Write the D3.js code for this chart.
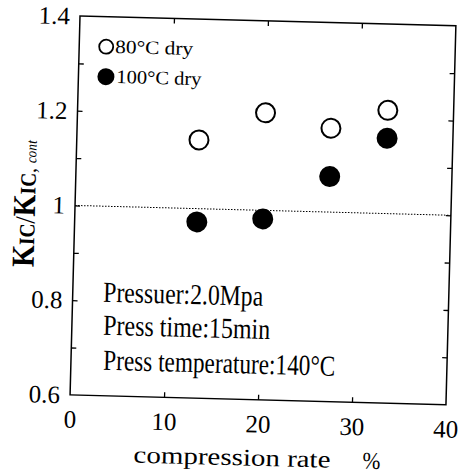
<!DOCTYPE html>
<html>
<head>
<meta charset="utf-8">
<script src="https://cdn.jsdelivr.net/npm/d3@7"></script>
<style>
  body { margin: 0; background: #fff; }
  svg { display: block; }
  text { font-family: "Liberation Serif", "Times New Roman", serif; fill: #000; }
</style>
</head>
<body>
<script>
// Compression rate (%) for each specimen group
const compression = [13, 20, 27, 33];
// Normalised fracture toughness KIC / KIC,cont
const dry80 = [1.145, 1.206, 1.177, 1.218];
const dry100 = [0.972, 0.982, 1.075, 1.159];
// Axis ticks
const xTicks = [0, 10, 20, 30, 40];
const xInnerTicks = [10, 20, 30];
const yTicks = [0.6, 0.7, 0.8, 0.9, 1.0, 1.1, 1.2, 1.3, 1.4];
const yLabelled = [0.6, 0.8, 1.0, 1.2, 1.4];
const referenceLevel = 1.0;
const legendLabels = ["80°C dry", "100°C dry"];
const conditions = ["Pressuer:2.0Mpa", "Press time:15min", "Press temperature:140°C"];

const W = 459, H = 475;
const L = 80, T = 16, PW = 376, PH = 379;

const svg = d3.select("body").append("svg").attr("width", W).attr("height", H);
const g = svg.append("g").attr("transform", `rotate(1.5, ${L}, ${T})`);

const x = d3.scaleLinear().domain([0, 40]).range([L, L + PW]);
const y = d3.scaleLinear().domain([0.6, 1.4]).range([T + PH, T]);

// Frame
g.append("rect")
  .attr("x", L).attr("y", T).attr("width", PW).attr("height", PH)
  .attr("fill", "none").attr("stroke", "#000").attr("stroke-width", 1.5);

const fmtY = d => yLabelled.some(v => Math.abs(v - d) < 1e-9) ? String(+d.toFixed(1)) : "";

// Left axis (ticks inward, labels outside)
const axLeft = g.append("g").attr("transform", `translate(${L},0)`)
  .call(d3.axisLeft(y).tickValues(yTicks).tickSize(-5).tickPadding(10).tickFormat(fmtY));
// Right axis
const axRight = g.append("g").attr("transform", `translate(${L + PW},0)`)
  .call(d3.axisRight(y).tickValues(yTicks.slice(1, -1)).tickSize(-5).tickFormat(""));
// Bottom axis
const axBottom = g.append("g").attr("transform", `translate(0,${T + PH})`)
  .call(d3.axisBottom(x).tickValues(xTicks).tickSize(-5).tickPadding(15).tickFormat(d3.format("d")));
// Top axis
const axTop = g.append("g").attr("transform", `translate(0,${T})`)
  .call(d3.axisTop(x).tickValues(xInnerTicks).tickSize(-5).tickFormat(""));

[axLeft, axRight, axBottom, axTop].forEach(a => {
  a.select(".domain").remove();
  a.selectAll(".tick line").attr("stroke", "#000").attr("stroke-width", 1.3);
  a.selectAll("text").attr("font-size", 25).attr("font-family", "Liberation Serif").attr("fill", "#000");
});
axBottom.selectAll(".tick line").filter(d => d === 0 || d === 40).remove();
axLeft.selectAll(".tick line").filter(d => d === 0.6 || d === 1.4).remove();

// Reference line at 1.0
g.append("path")
  .datum([0, 40])
  .attr("d", d3.line().x(d => x(d)).y(() => y(referenceLevel)))
  .attr("stroke", "#000").attr("stroke-width", 1).attr("stroke-dasharray", "1.5,1.5").attr("fill", "none");

// Data points
g.selectAll("circle.d80").data(compression).join("circle")
  .attr("class", "d80")
  .attr("cx", d => x(d)).attr("cy", (d, i) => y(dry80[i])).attr("r", 9.5)
  .attr("fill", "#fff").attr("stroke", "#000").attr("stroke-width", 2);
g.selectAll("circle.d100").data(compression).join("circle")
  .attr("class", "d100")
  .attr("cx", d => x(d)).attr("cy", (d, i) => y(dry100[i])).attr("r", 10.5)
  .attr("fill", "#000");

// Legend
g.append("circle").attr("cx", 107).attr("cy", 46).attr("r", 7)
  .attr("fill", "#fff").attr("stroke", "#000").attr("stroke-width", 1.8);
g.append("circle").attr("cx", 107.5).attr("cy", 76).attr("r", 8.5).attr("fill", "#000");
g.append("text").attr("x", 116).attr("y", 52).attr("font-size", 19)
  .attr("textLength", 78).attr("lengthAdjust", "spacingAndGlyphs").text(legendLabels[0]);
g.append("text").attr("x", 118).attr("y", 82).attr("font-size", 19)
  .attr("textLength", 85).attr("lengthAdjust", "spacingAndGlyphs").text(legendLabels[1]);

// Process conditions
const condX = [110.5, 111.4, 112.3], condY = [301, 334, 369], condLen = [160, 167, 232];
conditions.forEach((t, i) => {
  g.append("text").attr("x", condX[i]).attr("y", condY[i]).attr("font-size", 29)
    .attr("textLength", condLen[i]).attr("lengthAdjust", "spacingAndGlyphs").text(t);
});

// X axis title
g.append("text").attr("x", 145).attr("y", 461).attr("font-size", 24)
  .attr("textLength", 197).attr("lengthAdjust", "spacingAndGlyphs").text("compression rate");
g.append("text").attr("x", 374).attr("y", 461).attr("font-size", 24)
  .attr("textLength", 18).attr("lengthAdjust", "spacingAndGlyphs").text("%");

// Y axis title
const yt = g.append("text")
  .attr("transform", "translate(40,205) rotate(-90)")
  .attr("text-anchor", "middle")
  .attr("font-weight", "bold")
  .attr("textLength", 127).attr("lengthAdjust", "spacingAndGlyphs");
yt.append("tspan").attr("font-size", 32).text("K");
yt.append("tspan").attr("font-size", 22).text("IC");
yt.append("tspan").attr("font-size", 28).attr("font-weight", "normal").text("/");
yt.append("tspan").attr("font-size", 32).text("K");
yt.append("tspan").attr("font-size", 22).text("IC");
yt.append("tspan").attr("font-size", 22).attr("font-weight", "normal").text(", ");
yt.append("tspan").attr("font-size", 15).attr("font-weight", "normal").attr("font-style", "italic").text("cont");
</script>
</body>
</html>
